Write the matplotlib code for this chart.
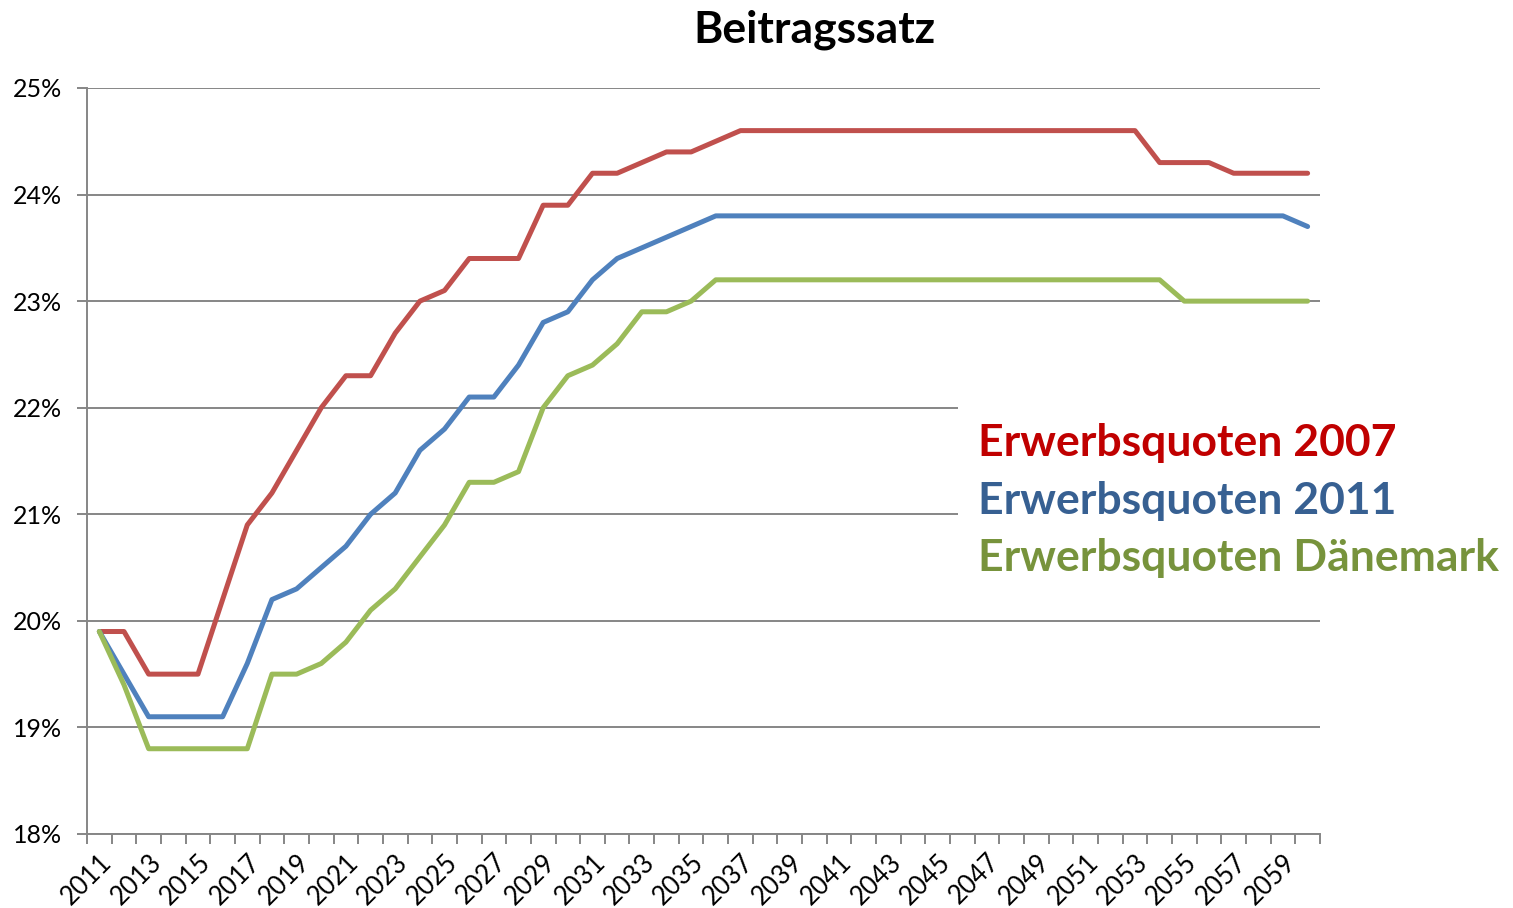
import numpy as np
import matplotlib.pyplot as plt
from matplotlib.ticker import FuncFormatter

years = list(range(2011, 2061))

quote_2007 = [19.9, 19.9, 19.5, 19.5, 19.5, 20.2, 20.9, 21.2, 21.6, 22.0,
              22.3, 22.3, 22.7, 23.0, 23.1, 23.4, 23.4, 23.4, 23.9, 23.9,
              24.2, 24.2, 24.3, 24.4, 24.4, 24.5, 24.6, 24.6, 24.6, 24.6,
              24.6, 24.6, 24.6, 24.6, 24.6, 24.6, 24.6, 24.6, 24.6, 24.6,
              24.6, 24.6, 24.6, 24.3, 24.3, 24.3, 24.2, 24.2, 24.2, 24.2]

quote_2011 = [19.9, 19.5, 19.1, 19.1, 19.1, 19.1, 19.6, 20.2, 20.3, 20.5,
              20.7, 21.0, 21.2, 21.6, 21.8, 22.1, 22.1, 22.4, 22.8, 22.9,
              23.2, 23.4, 23.5, 23.6, 23.7, 23.8, 23.8, 23.8, 23.8, 23.8,
              23.8, 23.8, 23.8, 23.8, 23.8, 23.8, 23.8, 23.8, 23.8, 23.8,
              23.8, 23.8, 23.8, 23.8, 23.8, 23.8, 23.8, 23.8, 23.8, 23.7]

quote_dk = [19.9, 19.4, 18.8, 18.8, 18.8, 18.8, 18.8, 19.5, 19.5, 19.6,
            19.8, 20.1, 20.3, 20.6, 20.9, 21.3, 21.3, 21.4, 22.0, 22.3,
            22.4, 22.6, 22.9, 22.9, 23.0, 23.2, 23.2, 23.2, 23.2, 23.2,
            23.2, 23.2, 23.2, 23.2, 23.2, 23.2, 23.2, 23.2, 23.2, 23.2,
            23.2, 23.2, 23.2, 23.2, 23.0, 23.0, 23.0, 23.0, 23.0, 23.0]

labels = ['Erwerbsquoten 2007', 'Erwerbsquoten 2011', 'Erwerbsquoten Dänemark']
line_colors = ['#C0504D', '#4F81BD', '#9BBB59']
text_colors = ['#C00000', '#376092', '#77933C']

plt.rcParams['font.family'] = ['Lato', 'DejaVu Sans']
grey = '#868686'

fig = plt.figure(figsize=(15.13, 9.08), dpi=100)
ax = fig.add_axes([0.0575, 0.0815, 0.8149, 0.8216])

x = np.arange(len(years))
for vals, col, lab in zip([quote_2007, quote_2011, quote_dk], line_colors, labels):
    ax.plot(x, vals, color=col, lw=3.6, label=lab, solid_capstyle='round', zorder=3)

ax.set_xlim(-0.5, len(years) - 0.5)
ax.set_ylim(18, 25)
ax.set_yticks(range(18, 26))
ax.yaxis.set_major_formatter(FuncFormatter(lambda v, p: '%d%%' % v))
ax.grid(axis='y', color=grey, lw=1.4, zorder=1)
ax.set_axisbelow(True)

ax.set_xticks(x[::2])
ax.set_xticklabels([str(y) for y in years[::2]], rotation=45, ha='right',
                   rotation_mode='anchor', fontsize=18.5)
ax.set_xticks(np.arange(-0.5, len(years)), minor=True)
ax.tick_params(axis='x', which='major', length=0, pad=11)
ax.tick_params(axis='x', which='minor', length=7, width=1.4, color=grey)
ax.tick_params(axis='y', length=7, width=1.4, color=grey, labelsize=18, pad=11)

for s in ['top', 'right']:
    ax.spines[s].set_visible(False)
for s in ['left', 'bottom']:
    ax.spines[s].set_color(grey)
    ax.spines[s].set_linewidth(1.4)

ax.set_title('Beitragssatz', fontsize=32, fontweight='bold', pad=33, x=0.59)

leg = ax.legend(loc='center left', bbox_to_anchor=(0.7064, 0.447),
                handlelength=0, handletextpad=0, labelspacing=0.39, borderpad=0.45,
                borderaxespad=0, frameon=True, fancybox=False, edgecolor='none',
                facecolor='white', framealpha=1,
                prop={'weight': 'bold', 'size': 32})
for txt, c in zip(leg.get_texts(), text_colors):
    txt.set_color(c)
for h in leg.legend_handles:
    h.set_visible(False)
leg.set_zorder(5)

fig.savefig('out.png', dpi=100)
